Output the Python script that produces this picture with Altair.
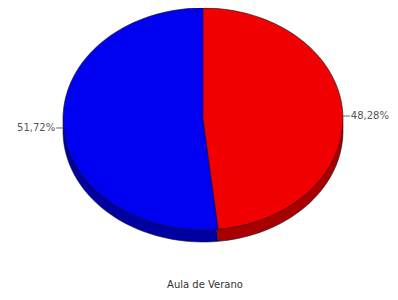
import altair as alt
import pandas as pd

# ---- data ----
categories = ["Grupo A", "Grupo B"]
values = [48.28, 51.72]
top_colors = ["#F00000", "#0000F0"]
side_colors = ["#A80000", "#0000A0"]
chart_title = "Aula de Verano"

df = pd.DataFrame({"cat": categories, "value": values, "order": list(range(len(categories)))})

W, H = 382, 284
xscale = alt.Scale(domain=[-1, 1], range=[55, 335])
yscale = alt.Scale(domain=[-1, 1], range=[222, 0])


def slices():
    return (
        alt.Chart(df)
        .transform_window(cum="sum(value)", sort=[alt.SortField("order")], frame=[None, 0])
        .transform_joinaggregate(total="sum(value)")
        .transform_calculate(
            a0="2*PI*(datum.cum - datum.value)/datum.total",
            a1="2*PI*datum.cum/datum.total",
            k="sequence(0, 82)",
        )
        .transform_flatten(["k"])
        .transform_calculate(
            t="datum.a0 + (datum.k - 1)/80*(datum.a1 - datum.a0)",
            px="datum.k == 0 ? 0 : sin(datum.t)",
            py="datum.k == 0 ? 0 : cos(datum.t)",
        )
    )


def enc(chart, colors):
    return chart.encode(
        x=alt.X("px:Q", scale=xscale, axis=None),
        y=alt.Y("py:Q", scale=yscale, axis=None),
        order=alt.Order("k:Q"),
        detail="cat:N",
        fill=alt.Fill("cat:N", scale=alt.Scale(domain=categories, range=colors), legend=None),
    )


side = enc(slices().mark_line(yOffset=12, stroke="#101030", strokeWidth=0.8, strokeOpacity=0.7), side_colors)
top = enc(slices().mark_line(stroke="#151515", strokeWidth=0.8, strokeOpacity=0.8), top_colors)


def labels():
    return (
        alt.Chart(df)
        .transform_window(cum="sum(value)", sort=[alt.SortField("order")], frame=[None, 0])
        .transform_joinaggregate(total="sum(value)")
        .transform_calculate(
            am="2*PI*(datum.cum - datum.value/2)/datum.total",
            lx="sin(datum.am)",
            ly="cos(datum.am)",
            lx2="1.05*sin(datum.am)",
            txt="replace(format(datum.value/datum.total*100, '.2f'), '.', ',') + '%'",
        )
    )


rules = labels().mark_rule(color="#666666", strokeWidth=1, yOffset=3).encode(
    x=alt.X("lx:Q", scale=xscale, axis=None),
    x2="lx2:Q",
    y=alt.Y("ly:Q", scale=yscale, axis=None),
)
txt_style = dict(font="DejaVu Sans", fontSize=10, color="#555555", baseline="middle", yOffset=3)
text_left = labels().transform_filter("datum.lx < 0").mark_text(align="right", dx=-1, **txt_style).encode(
    x=alt.X("lx2:Q", scale=xscale, axis=None),
    y=alt.Y("ly:Q", scale=yscale, axis=None),
    text="txt:N",
)
text_right = labels().transform_filter("datum.lx >= 0").mark_text(align="left", dx=1, **txt_style).encode(
    x=alt.X("lx2:Q", scale=xscale, axis=None),
    y=alt.Y("ly:Q", scale=yscale, axis=None),
    text="txt:N",
)

title = alt.Chart(pd.DataFrame({"t": [chart_title]})).mark_text(
    font="DejaVu Sans", fontSize=10, color="#333333", align="center", baseline="middle"
).encode(x=alt.value(197), y=alt.value(277), text="t:N")

chart = (
    alt.layer(side, top, rules, text_left, text_right, title)
    .resolve_scale(fill="independent")
    .properties(width=W, height=H, autosize=alt.AutoSizeParams(type="none"), padding=0)
    .configure_view(stroke=None)
)

chart.save("out.html", embed_options={"renderer": "svg", "actions": False})
